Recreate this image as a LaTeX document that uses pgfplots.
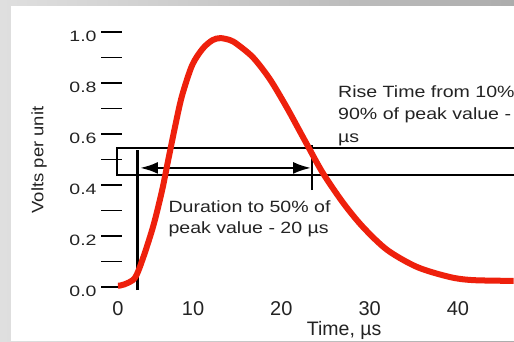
\documentclass[border=0pt]{standalone}
\usepackage{fontspec}
\setmainfont{Liberation Sans}
\newfontfamily\annot[FakeStretch=1.2]{Liberation Sans}
\newfontfamily\ytl[FakeStretch=1.3]{Liberation Sans}
\newfontfamily\ylab[FakeStretch=1.12]{Liberation Sans}
\usepackage{pgfplots}
\pgfplotsset{compat=1.18}
\usetikzlibrary{arrows.meta}
\definecolor{curvered}{RGB}{238,32,12}
\definecolor{txt}{RGB}{35,35,35}
\begin{document}
\begin{tikzpicture}[x=1bp,y=1bp]
\useasboundingbox (0,0) rectangle (514,341);
\clip (0,0) rectangle (514,341);
\shade[left color=gray!25, right color=gray!65] (0,0) rectangle (514,341);
\fill[white] (11,0) rectangle (514,335);
\begin{axis}[
  at={(118bp,54bp)}, anchor=south west,
  scale only axis, width=396bp, height=255bp,
  xmin=1.5, xmax=46.35, ymin=0, ymax=1,
  clip=false,
  axis line style={draw=none},
  xtick={1.5,10,20,30,40}, xticklabels={0,10,20,30,40},
  x tick style={draw=none},
  ytick={0,0.1,0.2,0.3,0.4,0.5,0.6,0.7,0.8,0.9,1.0},
  yticklabels={0.0,,0.2,,0.4,,0.6,,0.8,,1.0},
  ytick pos=left, ytick align=outside,
  major tick length=21bp,
  y tick style={black, line width=1.4bp, xshift=4bp},
  xticklabel style={anchor=center, yshift=-22bp, font=\fontsize{20bp}{24bp}\selectfont, text=txt},
  yticklabel style={anchor=center, xshift=-14bp, yshift=-4bp, font=\ytl\fontsize{15bp}{18bp}\selectfont, text=txt},
  xlabel={Time, µs}, ylabel={Volts per unit},
  xlabel style={at={(rel axis cs:0.571,-0.169)}, anchor=center, font=\fontsize{19.5bp}{22bp}\selectfont, text=txt},
  ylabel style={at={(rel axis cs:-0.199,0.498)}, anchor=center, font=\ylab\fontsize{16.5bp}{20bp}\selectfont, text=txt},
]
\draw[black, line width=1.6bp] (axis cs:1.39,0.439) rectangle (axis cs:48,0.545);
\draw[black, line width=2.6bp] (axis cs:3.71,-0.012) -- (axis cs:3.71,0.537);
\draw[black, line width=1.8bp] (axis cs:23.48,0.38) -- (axis cs:23.48,0.557);
\draw[black, line width=2.6bp, {Latex[length=18bp,width=12bp]}-{Latex[length=18bp,width=12bp]}] (axis cs:3.99,0.467) -- (axis cs:23.37,0.467);
\addplot[curvered, line width=6bp, smooth, tension=0.5] coordinates {
(1.5,0.005) (2.2,0.01) (3.4,0.035) (4.3,0.11) (5.5,0.24) (6.5,0.38) (7.2,0.50) (8.0,0.635) (8.75,0.75) (9.9,0.87) (11.1,0.935) (12.2,0.968) (13.1,0.976) (14.2,0.968) (15.0,0.952) (16.8,0.9) (18.7,0.815) (20.6,0.705) (22.1,0.61) (23.0,0.553) (24.7,0.447) (27.0,0.33) (29.25,0.235) (32.0,0.145) (35.4,0.078) (39.1,0.039) (41.7,0.027) (46.3,0.024)
};
\end{axis}
\begin{scope}[every node/.style={anchor=base west, inner sep=0pt, text=txt, font=\annot\fontsize{16.3bp}{20bp}\selectfont}]
\node at (338,243.3) {Rise Time from 10\%};
\node at (338,221.7) {90\% of peak value -};
\node at (338,199) {µs};
\node at (168.3,128.7) {Duration to 50\% of};
\node at (168.3,107.7) {peak value - 20 µs};
\end{scope}
\end{tikzpicture}
\end{document}
